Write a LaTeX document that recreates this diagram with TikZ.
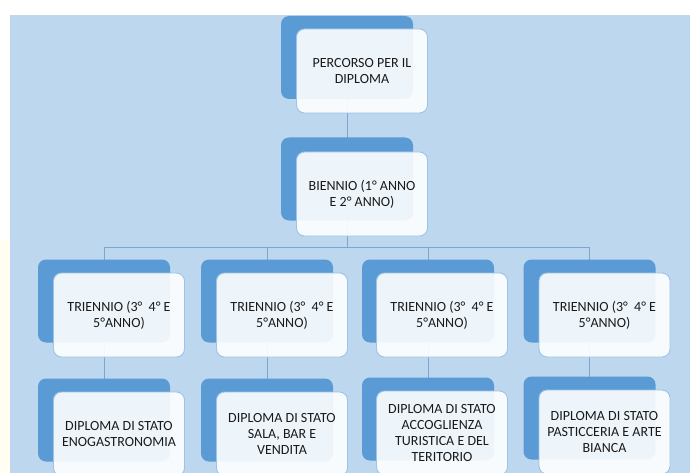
\documentclass[tikz,border=0pt]{standalone}
\usepackage{fontspec}
\setmainfont{Carlito}
\definecolor{bgblue}{HTML}{BDD7EE}
\definecolor{darkbox}{HTML}{5B9BD5}
\definecolor{edgeblue}{HTML}{9DC3E6}
\definecolor{linkblue}{HTML}{7DA6D2}
\definecolor{txt}{HTML}{1A1A1A}
\pgfdeclarelayer{bg}
\pgfdeclarelayer{links}
\pgfsetlayers{bg,links,main}
\tikzset{
  back/.style={fill=darkbox, draw=none, rounded corners=8pt, minimum width=132pt, minimum height=83pt, inner sep=0pt},
  front/.style={fill=white, fill opacity=0.9, text opacity=1, draw=edgeblue, line width=0.9pt, rounded corners=8pt,
    minimum width=131pt, minimum height=84pt, inner sep=2pt, align=center, text=txt,
    font=\fontsize{14}{16}\selectfont},
  link/.style={draw=linkblue, line width=0.9pt}
}
\begin{document}
\begin{tikzpicture}[x=1pt, y=-1pt]
\useasboundingbox (0,0) rectangle (690,473);
\begin{pgfonlayer}{bg}
  \fill[white] (0,0) rectangle (690,473);
  \fill[yellow!6] (0,240) rectangle (10,473);
  \fill[bgblue] (10,15) rectangle (690,473);
\end{pgfonlayer}

% back (dark) boxes
\node[back] (d0) at (347,57.5) {};
\node[back] (d1) at (347,179) {};
\node[back] (t1) at (104,301) {};
\node[back] (t2) at (267,301) {};
\node[back] (t3) at (428,301) {};
\node[back] (t4) at (589.5,301) {};
\node[back] (p1) at (104,420) {};
\node[back] (p2) at (267,420) {};
\node[back] (p3) at (428,419) {};
\node[back] (p4) at (589.5,418) {};

% front (light) boxes with text
\node[front] (l0) at (362,71) {PERCORSO PER IL\\DIPLOMA};
\node[front] (l1) at (362,194) {BIENNIO (1° ANNO\\E 2° ANNO)};
\node[front] (m1) at (119,315) {TRIENNIO (3°\ \ 4° E\\5°ANNO)};
\node[front] (m2) at (282,315) {TRIENNIO (3°\ \ 4° E\\5°ANNO)};
\node[front] (m3) at (442,315) {TRIENNIO (3°\ \ 4° E\\5°ANNO)};
\node[front] (m4) at (604.5,315) {TRIENNIO (3°\ \ 4° E\\5°ANNO)};
\node[front] (q1) at (119,434) {DIPLOMA DI STATO\\ENOGASTRONOMIA};
\node[front] (q2) at (282,434) {DIPLOMA DI STATO\\SALA, BAR E\\VENDITA};
\node[front] (q3) at (442,433) {DIPLOMA DI STATO\\ACCOGLIENZA\\TURISTICA E DEL\\TERITORIO};
\node[front] (q4) at (604.5,432) {DIPLOMA DI STATO\\PASTICCERIA E ARTE\\BIANCA};

\coordinate (bus) at (347,247);
\begin{pgfonlayer}{links}
  \draw[link] (d0.center) -- (d1.center);
  \draw[link] (d1.center) -- (bus);
  \draw[link] (t1.center) |- (bus);
  \draw[link] (t2.center) |- (bus);
  \draw[link] (t3.center) |- (bus);
  \draw[link] (t4.center) |- (bus);
  \draw[link] (t1.center) -- (p1.center);
  \draw[link] (t2.center) -- (p2.center);
  \draw[link] (t3.center) -- (p3.center);
  \draw[link] (t4.center) -- (p4.center);
\end{pgfonlayer}
\end{tikzpicture}
\end{document}
